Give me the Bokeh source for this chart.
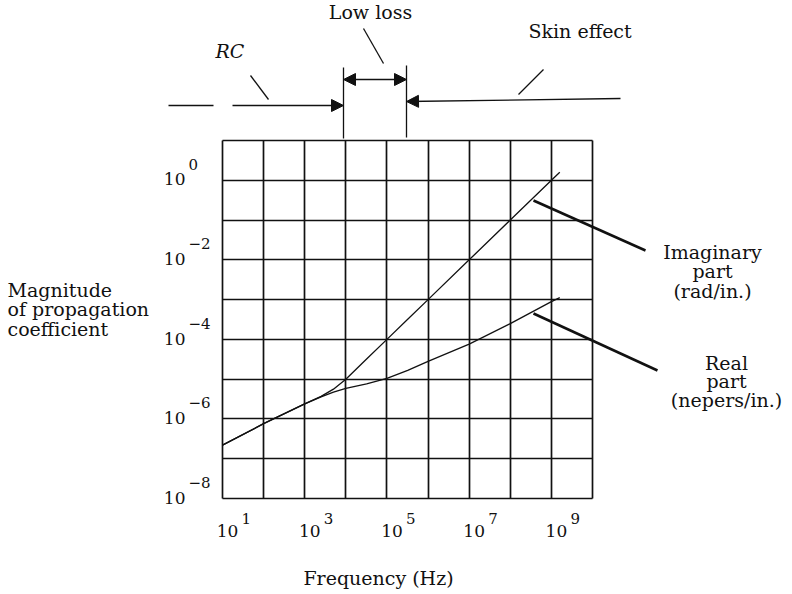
from bokeh.plotting import figure
from bokeh.models import Range1d, FixedTicker, Label, Arrow, NormalHead, Grid
from bokeh.embed import file_html
from bokeh.resources import INLINE
import math

# ---------------- data ----------------
freq_hz = [1e1, 1e2, 1e3, 2.5e3, 5e3, 1e4, 3.2e4, 1e5, 3.2e5, 1e6, 1e7, 1e8, 1e9, 1.6e9]
imag_rad_per_in = [2.2e-7, 7.6e-7, 2.4e-6, 3.7e-6, 5.6e-6, 1.0e-5, 3.2e-5, 1.0e-4,
                   3.2e-4, 1.0e-3, 1.0e-2, 1.0e-1, 1.0, 1.6]
real_np_per_in = [2.2e-7, 7.6e-7, 2.4e-6, 3.6e-6, 4.7e-6, 5.9e-6, 7.6e-6, 1.05e-5,
                  1.66e-5, 2.8e-5, 7.6e-5, 2.5e-4, 8.9e-4, 1.12e-3]

x_grid_ticks = [1e1, 1e2, 1e3, 1e4, 1e5, 1e6, 1e7, 1e8, 1e9, 1e10]
y_grid_ticks = [1e-8, 1e-7, 1e-6, 1e-5, 1e-4, 1e-3, 1e-2, 1e-1, 1e0, 1e1]
x_label_ticks = [1e1, 1e3, 1e5, 1e7, 1e9]
x_label_exp = ["1", "3", "5", "7", "9"]
y_label_ticks = [1e0, 1e-2, 1e-4, 1e-6, 1e-8]
y_label_exp = ["0", "\u22122", "\u22124", "\u22126", "\u22128"]

imag_text = ["Imaginary", "part", "(rad/in.)"]
real_text = ["Real", "part", "(nepers/in.)"]
ylabel_text = ["Magnitude", "of propagation", "coefficient"]
xlabel_text = "Frequency (Hz)"
regime_text = ["RC", "Low loss", "Skin effect"]

# ---------------- layout ----------------
W, H = 788, 592
FL, FR, FT, FB = 222, 592, 140, 498   # grid box edges in page pixels
FONT = "DejaVu Serif"
FS = 19        # main text size (px)
TS = 17        # tick "10" size
ES = 15        # exponent size
INK = "#111111"

XMIN, XMAX = x_grid_ticks[0], x_grid_ticks[-1]
YMIN, YMAX = y_grid_ticks[0], y_grid_ticks[-1]
NX, NY = len(x_grid_ticks) - 1, len(y_grid_ticks) - 1


def dx(px):
    return 10 ** (math.log10(XMIN) + NX * (px - FL) / (FR - FL))


def dy(py):
    return 10 ** (math.log10(YMIN) + NY * (FB - py) / (FB - FT))


def fix(size):
    # the rendered alphabetic baseline sits a little low; compensate
    return 0.4 * size


# the frame fills the whole canvas so that annotations around the grid are not clipped
p = figure(width=W, height=H, x_axis_type="log", y_axis_type="log",
           x_range=Range1d(dx(0), dx(W)), y_range=Range1d(dy(H), dy(0)),
           output_backend="svg", toolbar_location=None,
           min_border=0, min_border_left=0, min_border_right=0,
           min_border_top=0, min_border_bottom=0)
p.background_fill_color = "white"
p.border_fill_color = "white"
p.outline_line_color = None
p.xaxis.visible = False
p.yaxis.visible = False
p.xgrid.visible = False
p.ygrid.visible = False

# grid lines at every decade, limited to the grid box
grid_ok = True
try:
    gx = Grid(dimension=0, ticker=FixedTicker(ticks=x_grid_ticks),
              bounds=(XMIN, XMAX), cross_bounds=(YMIN, YMAX))
    gy = Grid(dimension=1, ticker=FixedTicker(ticks=y_grid_ticks),
              bounds=(YMIN, YMAX), cross_bounds=(XMIN, XMAX))
    for g in (gx, gy):
        g.grid_line_color = INK
        g.grid_line_width = 1.7
        g.grid_line_alpha = 1.0
        p.add_layout(g)
except Exception:
    grid_ok = False
if not grid_ok:
    p.segment(x0=x_grid_ticks, y0=[YMIN] * len(x_grid_ticks),
              x1=x_grid_ticks, y1=[YMAX] * len(x_grid_ticks),
              line_color=INK, line_width=1.7)
    p.segment(x0=[XMIN] * len(y_grid_ticks), y0=y_grid_ticks,
              x1=[XMAX] * len(y_grid_ticks), y1=y_grid_ticks,
              line_color=INK, line_width=1.7)

# curves
p.line(freq_hz, imag_rad_per_in, line_color=INK, line_width=1.3)
p.line(freq_hz, real_np_per_in, line_color=INK, line_width=1.3)


def text(px, py, s, align="left", size=FS, style="normal"):
    p.add_layout(Label(x=dx(px), y=dy(py - fix(size)), text=s, text_align=align,
                       text_baseline="alphabetic", text_font=FONT,
                       text_font_size=f"{size}px", text_font_style=style,
                       text_color=INK))


def seg(x0, y0, x1, y1, w=1.3, start=None, end=None):
    p.add_layout(Arrow(x_start=dx(x0), y_start=dy(y0), x_end=dx(x1), y_end=dy(y1),
                       line_color=INK, line_width=w, start=start, end=end))


def head():
    return NormalHead(size=12, fill_color=INK, line_color=INK, line_width=1)


def tick_label(x, y, s, xoff, yoff, size, align):
    p.add_layout(Label(x=x, y=y, text=s, x_offset=xoff, y_offset=yoff + fix(size),
                       text_align=align, text_baseline="alphabetic", text_font=FONT,
                       text_font_size=f"{size}px", text_color=INK))


# tick labels: "10" plus raised exponent
for t, e in zip(x_label_ticks, x_label_exp):
    tick_label(t, YMIN, "10", 5, -(537 - FB), TS, "center")
    tick_label(t, YMIN, e, 19, -(524 - FB), ES, "left")
for t, e in zip(y_label_ticks, y_label_exp):
    tick_label(XMIN, t, "10", -(FL - 185), -6, TS, "right")
    tick_label(XMIN, t, e, -34, 10, ES, "left")

# axis titles
for i, s in enumerate(ylabel_text):
    text(7, 297 + 19.5 * i, s)
text(378, 585, xlabel_text, align="center")

# curve labels with leaders
for i, s in enumerate(imag_text):
    text(712, 259 + 19.5 * i, s, align="center")
for i, s in enumerate(real_text):
    text(726, 370 + 18.5 * i, s, align="center")
seg(533, 200, 645, 250, w=2.6)
seg(533, 313, 657, 370, w=2.6)

# regime annotations above the chart
text(215, 58, regime_text[0], style="italic")
text(370, 19, regime_text[1], align="center")
text(528, 38, regime_text[2])
seg(250, 75, 268, 99)
seg(363, 28, 383, 63)
seg(543, 69, 518, 94)
seg(343, 67, 343, 138)
seg(406, 65, 406, 137)
seg(168, 105, 213, 105)
seg(232, 105, 343, 105, end=head())
seg(620, 98, 406, 101, end=head())
seg(343, 79, 406, 79, start=head(), end=head())

open("out.html", "w").write(file_html(p, INLINE))
